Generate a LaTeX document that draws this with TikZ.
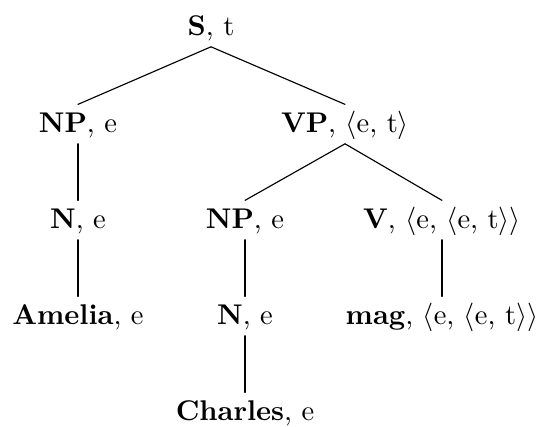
\documentclass[tikz,border=0pt]{standalone}
\usepackage{amsmath,amssymb}
\usetikzlibrary{positioning}

\begin{document}
\begin{tikzpicture}[x=0.3509pt,y=-0.3509pt]
\tikzset{
  treenode/.style={anchor=base,inner sep=2pt,text height=7.5pt,text depth=1.94pt},
  treeedge/.style={draw=black,line width=0.4pt,line cap=round}
}
\useasboundingbox (0,0) rectangle (542,426);
\node[treenode] (n_S) at (211,35) {\textbf{S}, t};
\node[treenode] (n_NPa) at (78,132) {\textbf{NP}, e};
\node[treenode] (n_VP) at (345,132) {\textbf{VP}, $\langle$e, t$\rangle$};
\node[treenode] (n_Na) at (78,228) {\textbf{N}, e};
\node[treenode] (n_NPb) at (245,228) {\textbf{NP}, e};
\node[treenode] (n_V) at (442,228) {\textbf{V}, $\langle$e, $\langle$e, t$\rangle\rangle$};
\node[treenode] (n_Amelia) at (78,324) {\textbf{Amelia}, e};
\node[treenode] (n_Nb) at (245,324) {\textbf{N}, e};
\node[treenode] (n_mag) at (442,324) {\textbf{mag}, $\langle$e, $\langle$e, t$\rangle\rangle$};
\node[treenode] (n_Charles) at (245,420) {\textbf{Charles}, e};
\draw[treeedge] (n_S.south) -- (n_NPa.north);
\draw[treeedge] (n_S.south) -- (n_VP.north);
\draw[treeedge] (n_NPa.south) -- (n_Na.north);
\draw[treeedge] (n_Na.south) -- (n_Amelia.north);
\draw[treeedge] (n_VP.south) -- (n_NPb.north);
\draw[treeedge] (n_VP.south) -- (n_V.north);
\draw[treeedge] (n_NPb.south) -- (n_Nb.north);
\draw[treeedge] (n_Nb.south) -- (n_Charles.north);
\draw[treeedge] (n_V.south) -- (n_mag.north);
\end{tikzpicture}
\end{document}
